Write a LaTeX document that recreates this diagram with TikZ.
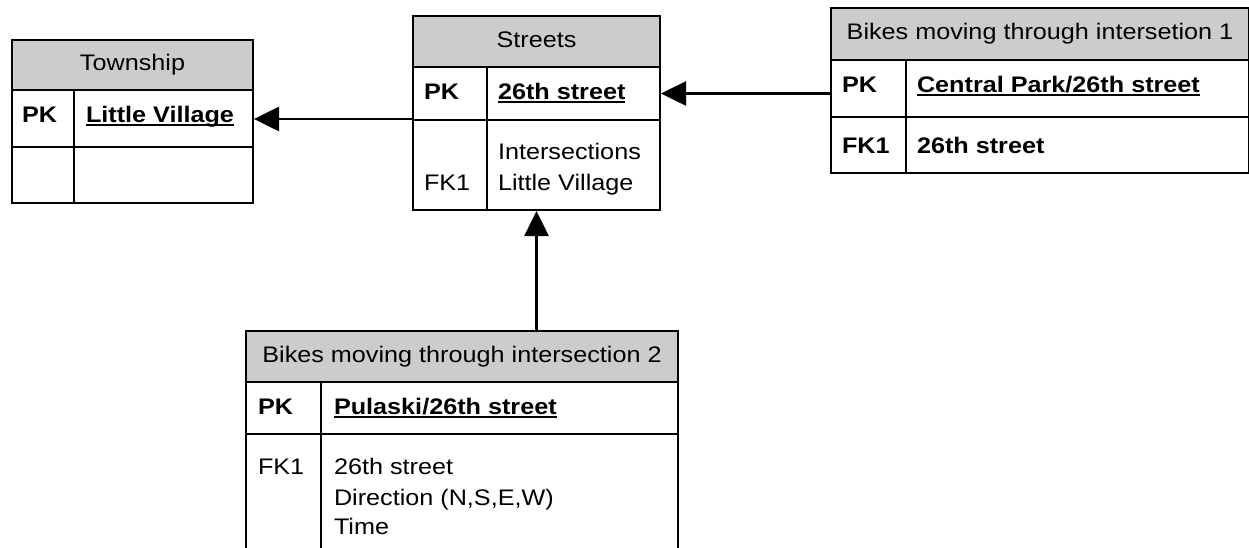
\documentclass[tikz,border=0pt]{standalone}
\usepackage{fontspec}
\setmainfont{Liberation Sans}[FakeStretch=1.12]
\usetikzlibrary{arrows.meta}

\newcommand{\erfont}{\fontsize{22.5}{31}\selectfont}
\newcommand{\keyline}[1]{\setbox0=\hbox{#1}\rlap{\rule[-4pt]{\wd0}{1.8pt}}\box0}

\begin{document}
\begin{tikzpicture}[x=1pt, y=-1pt, line width=2pt,
        every node/.style={font=\erfont},
        hdr/.style={draw, fill=gray!40, anchor=north west, inner sep=0pt, text height=16.5pt, text depth=5pt},
        row/.style={draw, anchor=north west, inner sep=0pt},
        txt/.style={anchor=base west, inner sep=0pt},
        key/.style={txt, font=\erfont\bfseries},
        fk/.style={line width=2.6pt, -{Triangle[length=25pt, width=24pt]}}]
        \useasboundingbox (0,0) rectangle (1249,547);
        \clip (0,0) rectangle (1249,547);

        % Township table
        \node[hdr, minimum width=241pt, minimum height=50pt] (town) at (11,39) {Township};
        \node[row, minimum width=241pt, minimum height=57pt] (townpk) at (11,89) {};
        \node[row, minimum width=241pt, minimum height=56pt] (townfk) at (11,146) {};
        \draw (74,89) -- (74,202);
        \node[key] (townpkkey) at (21,122) {PK};
        \node[key] (townpkname) at (85,122) {\keyline{Little Village}};

        % Streets table
        \node[hdr, minimum width=247pt, minimum height=51pt] (streets) at (412,15) {Streets};
        \node[row, minimum width=247pt, minimum height=53pt] (streetspk) at (412,66) {};
        \node[row, minimum width=247pt, minimum height=90pt] (streetsfk) at (412,119) {};
        \draw (487,66) -- (487,209);
        \node[key] (streetspkkey) at (423,99) {PK};
        \node[key] (streetspkname) at (497,99) {\keyline{26th street}};
        \node[txt] (streetsfield1) at (497,159) {Intersections};
        \node[txt] (streetsfield2) at (497,190) {Little Village};
        \node[txt] (streetsfkkey) at (423,190) {FK1};

        % Bikes moving through intersection 1
        \node[hdr, minimum width=418pt, minimum height=52pt] (bikesone) at (830,7) {Bikes moving through intersetion 1};
        \node[row, minimum width=418pt, minimum height=57pt] (bikesonepk) at (830,59) {};
        \node[row, minimum width=418pt, minimum height=56pt] (bikesonefk) at (830,116) {};
        \draw (906,59) -- (906,172);
        \node[key] (bikesonepkkey) at (841,92) {PK};
        \node[key] (bikesonepkname) at (916,92) {\keyline{Central Park/26th street}};
        \node[key] (bikesonefkkey) at (841,153) {FK1};
        \node[key] (bikesonefield) at (916,153) {26th street};

        % Bikes moving through intersection 2
        \node[hdr, minimum width=432pt, minimum height=51pt] (bikestwo) at (245,330) {Bikes moving through intersection 2};
        \node[row, minimum width=432pt, minimum height=52pt] (bikestwopk) at (245,381) {};
        \node[row, minimum width=432pt, minimum height=140pt] (bikestwofk) at (245,433) {};
        \draw (321,381) -- (321,573);
        \node[key] (bikestwopkkey) at (257,414) {PK};
        \node[key] (bikestwopkname) at (333,414) {\keyline{Pulaski/26th street}};
        \node[txt] (bikestwofkkey) at (257,474) {FK1};
        \node[txt] (bikestwofield1) at (333,474) {26th street};
        \node[txt] (bikestwofield2) at (333,505) {Direction (N,S,E,W)};
        \node[txt] (bikestwofield3) at (333,534) {Time};

        % Relationships
        \draw[fk] (streetsfk.north west) -- (streetsfk.north west -| townpk.east);
        \draw[fk] (bikesonepk.west |- streetspk.east) -- (streetspk.east);
        \draw[fk] (streets.south |- bikestwo.north) -- (streets.south |- streetsfk.south);
    \end{tikzpicture}
\end{document}
